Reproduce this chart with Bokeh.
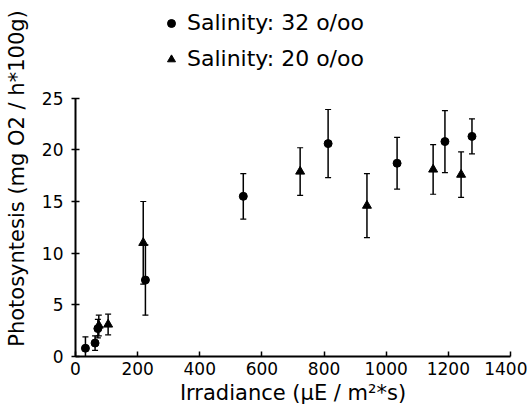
from bokeh.plotting import figure
from bokeh.models import ColumnDataSource, Whisker, TeeHead, Legend, LegendItem, Range1d, FixedTicker
from bokeh.embed import file_html
from bokeh.resources import INLINE

# Salinity 32 o/oo (circles)
irr_32 = [32, 63, 72, 225, 540, 813, 1035, 1189, 1276]
ps_32 = [0.8, 1.3, 2.7, 7.4, 15.5, 20.6, 18.7, 20.8, 21.3]
err_32 = [1.1, 0.7, 0.9, 3.4, 2.2, 3.3, 2.5, 3.0, 1.7]

# Salinity 20 o/oo (triangles)
irr_20 = [75, 105, 218, 723, 938, 1151, 1241]
ps_20 = [3.0, 3.1, 11.0, 17.9, 14.6, 18.1, 17.6]
err_20 = [1.0, 1.0, 4.0, 2.3, 3.1, 2.4, 2.2]

x_ticks = [0, 200, 400, 600, 800, 1000, 1200, 1400]
y_ticks = [0, 5, 10, 15, 20, 25]
labels = ["Salinity: 32 o/oo", "Salinity: 20 o/oo"]

FONT = "DejaVu Sans"

s32 = ColumnDataSource(dict(x=irr_32, y=ps_32,
                            lo=[v - e for v, e in zip(ps_32, err_32)],
                            hi=[v + e for v, e in zip(ps_32, err_32)]))
s20 = ColumnDataSource(dict(x=irr_20, y=ps_20,
                            lo=[v - e for v, e in zip(ps_20, err_20)],
                            hi=[v + e for v, e in zip(ps_20, err_20)]))

p = figure(width=527, height=410, output_backend="svg", toolbar_location=None,
           x_range=Range1d(0, 1400), y_range=Range1d(0, 34.45),
           min_border_left=75, min_border_right=17, min_border_top=0, min_border_bottom=54)
p.outline_line_color = None
p.grid.visible = False

for src in (s32, s20):
    w = Whisker(source=src, base="x", lower="lo", upper="hi",
                line_color="black", line_width=1.5,
                upper_head=TeeHead(size=6, line_color="black", line_width=1.2),
                lower_head=TeeHead(size=6, line_color="black", line_width=1.2))
    p.add_layout(w)

r32 = p.scatter("x", "y", source=s32, marker="circle", size=8, color="black")
r20 = p.scatter("x", "y", source=s20, marker="triangle", size=9, color="black")

for ax in (p.xaxis[0], p.yaxis[0]):
    ax.axis_line_color = "black"
    ax.axis_line_width = 2
    ax.major_tick_line_color = "black"
    ax.major_tick_line_width = 1.5
    ax.minor_tick_line_color = None
    ax.major_label_text_font = FONT
    ax.major_label_text_font_size = "17px"
    ax.major_label_text_color = "black"
    ax.axis_label_text_font = FONT
    ax.axis_label_text_font_style = "normal"
    ax.axis_label_text_color = "black"

p.xaxis[0].axis_label_text_font_size = "21px"
p.yaxis[0].axis_label_text_font_size = "21px"
p.xaxis[0].ticker = FixedTicker(ticks=x_ticks)
p.yaxis[0].ticker = FixedTicker(ticks=y_ticks)
p.xaxis[0].bounds = (0, 1400)
p.yaxis[0].bounds = (0, 25)
p.xaxis[0].major_tick_in = 5
p.xaxis[0].major_tick_out = 0
p.yaxis[0].major_tick_in = 4
p.yaxis[0].major_tick_out = 4
p.xaxis[0].major_label_standoff = 5
p.xaxis[0].axis_label_standoff = 3
p.yaxis[0].major_label_standoff = 8
p.yaxis[0].axis_label_standoff = 10
p.xaxis[0].axis_label = "Irradiance (\u03bcE / m\u00b2*s)"
p.yaxis[0].axis_label = "Photosyntesis (mg O2 / h*100g)"

legend = Legend(items=[LegendItem(label=labels[0], renderers=[r32]),
                       LegendItem(label=labels[1], renderers=[r20])],
                location=(86, 285), padding=0, margin=0, spacing=11,
                label_height=22, glyph_height=22, glyph_width=20, label_standoff=6,
                label_text_font=FONT, label_text_font_size="22px", label_text_color="black",
                border_line_alpha=0, background_fill_alpha=0)
p.add_layout(legend, "center")

open("out.html", "w").write(file_html(p, INLINE))
